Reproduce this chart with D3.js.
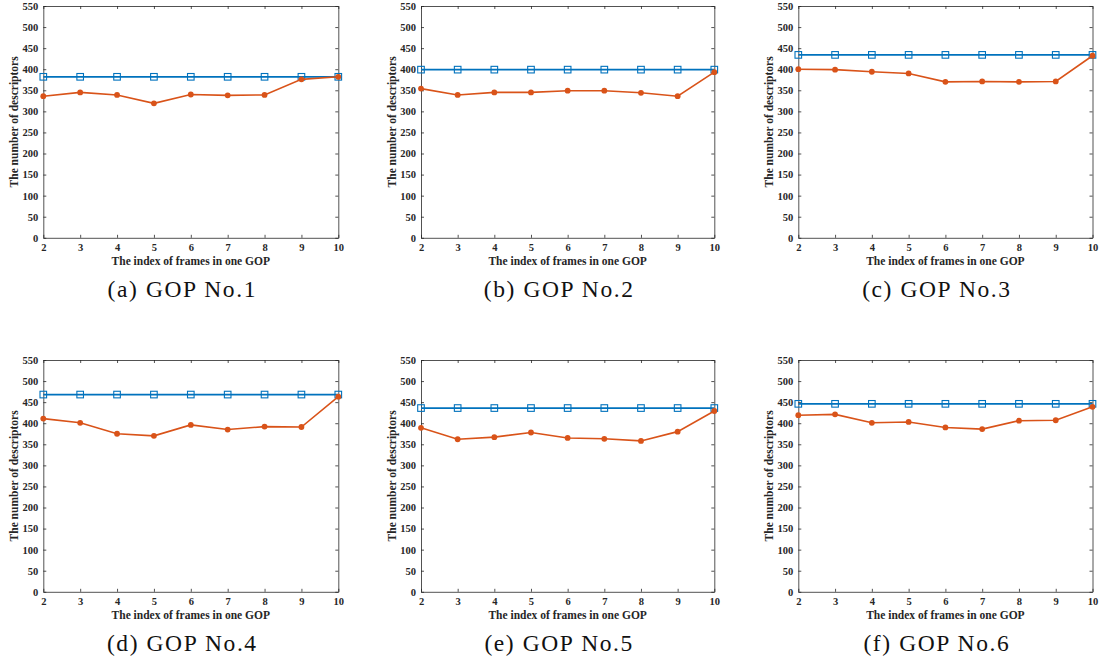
<!DOCTYPE html>
<html><head><meta charset="utf-8">
<script src="https://cdn.jsdelivr.net/npm/d3@7"></script>
<style>
body{margin:0;background:#fff;}
</style></head>
<body><svg id="c" width="1103" height="666"></svg>
<script>
const frames = [2,3,4,5,6,7,8,9,10];
const yTicks = [0,50,100,150,200,250,300,350,400,450,500,550];
const captions = ["(a) GOP No.1","(b) GOP No.2","(c) GOP No.3","(d) GOP No.4","(e) GOP No.5","(f) GOP No.6"];
const blueValues = [382, 399, 434, 468, 436, 446];
const orange1 = [336, 345, 339, 319, 340, 338, 339, 376, 382];
const orange2 = [354, 339, 345, 345, 349, 349, 344, 336, 393];
const orange3 = [400, 399, 394, 390, 370, 371, 370, 371, 432];
const orange4 = [411, 401, 375, 370, 396, 385, 392, 391, 463];
const orange5 = [389, 362, 367, 378, 365, 363, 358, 380, 429];
const orange6 = [419, 421, 401, 403, 390, 386, 406, 407, 439];
const orangeSeries = [orange1, orange2, orange3, orange4, orange5, orange6];

const colLefts = [43.3, 421, 798.3];
const colWidths = [295, 293.3, 294.2];
const rowTops = [6, 360];
const plotH = 231.8;
const BLUE = "#0072BD", ORANGE = "#D95319";
const SERIF = '"Liberation Serif","Times New Roman",serif';

const svg = d3.select("#c");

captions.forEach((cap, i) => {
  const col = i % 3, row = Math.floor(i / 3);
  const L = colLefts[col], W = colWidths[col], T = rowTops[row];
  const g = svg.append("g").attr("transform", `translate(${L},${T})`);
  const x = d3.scaleLinear().domain([2, 10]).range([0, W]);
  const y = d3.scaleLinear().domain([0, 550]).range([plotH, 0]);

  const ax = g.append("g").attr("transform", `translate(0,${plotH})`)
    .call(d3.axisBottom(x).tickValues(frames).tickFormat(d3.format("d")).tickSizeInner(-3).tickSizeOuter(0).tickPadding(6));
  const ay = g.append("g")
    .call(d3.axisLeft(y).tickValues(yTicks).tickSizeInner(-3).tickSizeOuter(0).tickPadding(5));
  const at = g.append("g")
    .call(d3.axisTop(x).tickValues(frames).tickFormat("").tickSizeInner(-3).tickSizeOuter(0));
  const ar = g.append("g").attr("transform", `translate(${W},0)`)
    .call(d3.axisRight(y).tickValues(yTicks).tickFormat("").tickSizeInner(-3).tickSizeOuter(0));
  [ax, ay, at, ar].forEach(a => {
    a.selectAll("path").attr("stroke", "#262626").attr("stroke-width", 0.8);
    a.selectAll("line").attr("stroke", "#262626").attr("stroke-width", 0.8);
    a.selectAll("text").style("font-family", SERIF).attr("font-weight", "bold")
      .attr("font-size", 10.5).attr("fill", "#262626");
  });

  g.append("text").attr("x", W / 2).attr("y", plotH + 27.5).attr("text-anchor", "middle")
    .style("font-family", SERIF).attr("font-weight", "bold").attr("font-size", 11.5).attr("fill", "#262626")
    .text("The index of frames in one GOP");
  g.append("text").attr("transform", `translate(-29.3,${plotH / 2}) rotate(-90)`)
    .attr("dy", "0.35em").attr("text-anchor", "middle")
    .style("font-family", SERIF).attr("font-weight", "bold").attr("font-size", 11.5).attr("fill", "#262626")
    .text("The number of descriptors");

  const line = d3.line().x(d => x(d.f)).y(d => y(d.v));
  const blue = frames.map(f => ({f, v: blueValues[i]}));
  g.append("path").datum(blue).attr("d", line).attr("fill", "none").attr("stroke", BLUE).attr("stroke-width", 1.7);
  g.selectAll(".sq").data(blue).enter().append("rect")
    .attr("x", d => x(d.f) - 3.3).attr("y", d => y(d.v) - 3.3).attr("width", 6.6).attr("height", 6.6)
    .attr("fill", "none").attr("stroke", BLUE).attr("stroke-width", 1.1);

  const org = frames.map((f, k) => ({f, v: orangeSeries[i][k]}));
  g.append("path").datum(org).attr("d", line).attr("fill", "none").attr("stroke", ORANGE).attr("stroke-width", 1.6);
  g.selectAll(".ci").data(org).enter().append("circle")
    .attr("cx", d => x(d.f)).attr("cy", d => y(d.v)).attr("r", 2.9).attr("fill", ORANGE);

  svg.append("text").attr("x", L + W / 2 - 8.5).attr("y", row === 0 ? 297.3 : 651.3).attr("text-anchor", "middle")
    .style("font-family", SERIF).style("letter-spacing", "1.6px").attr("font-size", 23.5).attr("fill", "#111")
    .text(cap);
});
</script></body></html>
